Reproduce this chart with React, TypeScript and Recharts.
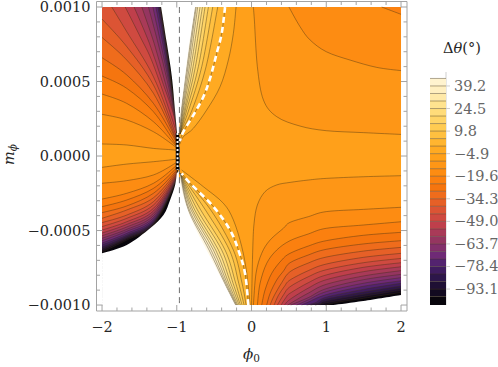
import React from "react";
import { ScatterChart, Scatter, XAxis, YAxis } from "recharts";

type Row = [number, number];

// contour levels, degrees
const negLevels = [-9.8, -14.7, -19.6, -24.5, -29.4, -34.3, -39.2, -44.1, -49, -53.9, -58.8, -63.7, -68.6, -73.5, -78.4, -83.3, -88.2, -93.1, -98];
const posLevels = [-4.9, 0, 4.9, 9.8, 14.7, 19.6, 24.5, 29.4, 34.3, 39.2, 44.1];
const baseColor = "#ffa01a";
const negColors = ["#fe9616", "#fd8c12", "#fb800f", "#f5750f", "#ef6c1c", "#e66027", "#dc5434", "#cf4a40", "#bf3f4b", "#a93a58", "#953560", "#83306b", "#6f2a76", "#53236f", "#3f1c5f", "#2d164a", "#1f1034", "#120a20", "#08050c"];
const posColors = ["#ffaa22", "#ffb530", "#ffc040", "#ffcb52", "#ffd466", "#ffdc7a", "#ffe38f", "#ffe9a8", "#ffefc0", "#fff3cf", "#fff8e4"];

// fans: [phi0, m_phi * 1000]
const upperLeft: Row[][] = [
  [[-2, 0.081], [-1.669, 0.074], [-1.312, 0.051], [-1.022, 0.04], [-0.99, 0.03]],
  [[-2, 0.28], [-1.669, 0.242], [-1.312, 0.163], [-1.022, 0.063], [-0.99, 0.04]],
  [[-2, 0.416], [-1.669, 0.353], [-1.312, 0.23], [-1.022, 0.074], [-0.99, 0.05]],
  [[-2, 0.537], [-1.669, 0.454], [-1.312, 0.297], [-1.022, 0.085], [-0.99, 0.055]],
  [[-2, 0.66], [-1.669, 0.544], [-1.312, 0.353], [-1.022, 0.107], [-0.99, 0.06]],
  [[-2, 0.796], [-1.669, 0.644], [-1.312, 0.421], [-1.022, 0.119], [-0.99, 0.065]],
  [[-2, 0.919], [-1.669, 0.734], [-1.312, 0.477], [-1.022, 0.13], [-0.99, 0.07]],
  [[-1.87, 1], [-1.669, 0.834], [-1.312, 0.532], [-1.022, 0.152], [-0.99, 0.08]],
  [[-1.69, 1], [-1.49, 0.801], [-1.312, 0.611], [-1.022, 0.186], [-0.99, 0.09]],
  [[-1.571, 1], [-1.366, 0.756], [-1.2, 0.51], [-1.035, 0.264], [-0.99, 0.1]],
  [[-1.468, 1], [-1.303, 0.756], [-1.165, 0.51], [-1.031, 0.264], [-0.99, 0.105]],
  [[-1.379, 1], [-1.25, 0.756], [-1.13, 0.51], [-1.026, 0.264], [-0.99, 0.11]],
  [[-1.32, 1], [-1.215, 0.756], [-1.112, 0.51], [-1.022, 0.264], [-0.99, 0.115]],
  [[-1.28, 1], [-1.188, 0.756], [-1.1, 0.51], [-1.02, 0.264], [-0.99, 0.12]],
  [[-1.253, 1], [-1.168, 0.756], [-1.09, 0.51], [-1.017, 0.264], [-0.99, 0.12]],
  [[-1.235, 1], [-1.155, 0.756], [-1.084, 0.51], [-1.015, 0.264], [-0.99, 0.125]],
  [[-1.224, 1], [-1.147, 0.756], [-1.08, 0.51], [-1.013, 0.264], [-0.99, 0.125]],
  [[-1.217, 1], [-1.142, 0.756], [-1.077, 0.51], [-1.011, 0.264], [-0.99, 0.13]],
  [[-1.212, 1], [-1.138, 0.756], [-1.075, 0.51], [-1.008, 0.264], [-0.99, 0.13]],
];

const lowerLeft: Row[][] = [
  [[-2, -0.076], [-1.669, -0.054], [-1.312, -0.038], [-1.022, -0.022], [-0.99, -0.015]],
  [[-2, -0.183], [-1.669, -0.165], [-1.312, -0.127], [-1.022, -0.049], [-0.99, -0.03]],
  [[-2, -0.289], [-1.669, -0.25], [-1.312, -0.183], [-1.022, -0.071], [-0.99, -0.04]],
  [[-2, -0.34], [-1.669, -0.295], [-1.312, -0.217], [-1.022, -0.089], [-0.99, -0.05]],
  [[-2, -0.38], [-1.669, -0.335], [-1.312, -0.25], [-1.022, -0.105], [-0.99, -0.055]],
  [[-2, -0.418], [-1.669, -0.362], [-1.312, -0.28], [-1.022, -0.116], [-0.99, -0.06]],
  [[-2, -0.447], [-1.669, -0.396], [-1.312, -0.306], [-1.022, -0.127], [-0.99, -0.065]],
  [[-2, -0.474], [-1.669, -0.418], [-1.312, -0.329], [-1.022, -0.136], [-0.99, -0.07]],
  [[-2, -0.497], [-1.669, -0.441], [-1.312, -0.351], [-1.022, -0.145], [-0.99, -0.075]],
  [[-2, -0.517], [-1.669, -0.459], [-1.312, -0.369], [-1.022, -0.152], [-0.99, -0.08]],
  [[-2, -0.535], [-1.669, -0.476], [-1.312, -0.385], [-1.022, -0.159], [-0.99, -0.085]],
  [[-2, -0.552], [-1.669, -0.492], [-1.312, -0.4], [-1.022, -0.165], [-0.99, -0.09]],
  [[-2, -0.568], [-1.669, -0.505], [-1.312, -0.414], [-1.022, -0.17], [-0.99, -0.09]],
  [[-2, -0.584], [-1.669, -0.519], [-1.312, -0.425], [-1.022, -0.174], [-0.99, -0.095]],
  [[-2, -0.597], [-1.669, -0.53], [-1.312, -0.436], [-1.022, -0.179], [-0.99, -0.095]],
  [[-2, -0.611], [-1.669, -0.539], [-1.312, -0.445], [-1.022, -0.181], [-0.99, -0.1]],
  [[-2, -0.622], [-1.669, -0.548], [-1.312, -0.452], [-1.022, -0.183], [-0.99, -0.1]],
  [[-2, -0.633], [-1.669, -0.555], [-1.312, -0.459], [-1.022, -0.185], [-0.99, -0.105]],
  [[-2, -0.644], [-1.669, -0.564], [-1.312, -0.465], [-1.022, -0.188], [-0.99, -0.105]],
];

const lowerRight: Row[][] = [
  [[0, -1], [0.016, -0.631], [0.034, -0.452], [0.078, -0.329], [0.181, -0.239], [0.337, -0.194], [0.515, -0.177], [0.76, -0.161], [1, -0.15], [1.496, -0.139], [2, -0.132]],
  [[0.025, -1], [0.06, -0.787], [0.136, -0.653], [0.248, -0.564], [0.426, -0.485], [0.515, -0.445], [0.76, -0.407], [1, -0.373], [1.496, -0.358], [2, -0.344]],
  [[0.078, -1], [0.114, -0.854], [0.203, -0.72], [0.337, -0.631], [0.515, -0.568], [0.76, -0.523], [1, -0.485], [1.496, -0.463], [2, -0.441]],
  [[0.136, -1], [0.181, -0.899], [0.27, -0.787], [0.404, -0.698], [0.515, -0.653], [0.76, -0.604], [1, -0.568], [1.496, -0.532], [2, -0.512]],
  [[0.203, -1], [0.248, -0.922], [0.337, -0.832], [0.43, -0.77], [0.515, -0.716], [0.76, -0.664], [1, -0.626], [1.496, -0.59], [2, -0.568]],
  [[0.248, -1], [0.3, -0.94], [0.404, -0.85], [0.515, -0.776], [0.76, -0.718], [1, -0.678], [1.496, -0.638], [2, -0.613]],
  [[0.301, -1], [0.36, -0.935], [0.44, -0.875], [0.515, -0.832], [0.76, -0.769], [1, -0.725], [1.496, -0.68], [2, -0.653]],
  [[0.346, -1], [0.43, -0.93], [0.515, -0.877], [0.76, -0.81], [1, -0.763], [1.496, -0.716], [2, -0.687]],
  [[0.395, -1], [0.46, -0.95], [0.515, -0.921], [0.76, -0.85], [1, -0.798], [1.496, -0.747], [2, -0.716]],
  [[0.44, -1], [0.515, -0.962], [0.76, -0.886], [1, -0.83], [1.496, -0.776], [2, -0.743]],
  [[0.484, -1], [0.6, -0.965], [0.76, -0.92], [1, -0.861], [1.496, -0.805], [2, -0.769]],
  [[0.524, -1], [0.76, -0.95], [1, -0.89], [1.496, -0.83], [2, -0.794]],
  [[0.604, -1], [0.76, -0.965], [1, -0.91], [1.496, -0.854], [2, -0.816]],
  [[0.671, -1], [0.76, -0.98], [1, -0.93], [1.496, -0.874], [2, -0.837]],
  [[0.738, -1], [0.85, -0.985], [1, -0.947], [1.496, -0.895], [2, -0.854]],
  [[0.791, -1], [0.9, -0.985], [1, -0.96], [1.496, -0.913], [2, -0.872]],
  [[0.849, -1], [0.93, -0.99], [1, -0.973], [1.496, -0.928], [2, -0.888]],
  [[0.916, -1], [1, -0.985], [1.496, -0.942], [2, -0.901]],
  [[0.983, -1], [1.2, -0.977], [1.496, -0.955], [2, -0.915]],
];

const upperRight: Row[][] = [
  [[0.024, 1], [0.038, 0.913], [0.078, 0.6], [0.159, 0.376], [0.337, 0.264], [0.649, 0.201], [1, 0.17], [1.496, 0.157], [2, 0.145]],
  [[0.5, 1], [0.649, 0.868], [0.783, 0.779], [1, 0.7], [1.318, 0.644], [1.674, 0.595], [2, 0.573]],
  [[1.741, 1], [2, 0.951]],
];

// positive side, from -4.9 upward; index 1 is the zero contour
const upperFan: Row[][] = [
  [[-0.207, 1], [-0.243, 0.823], [-0.31, 0.644], [-0.421, 0.465], [-0.6, 0.309], [-0.778, 0.186], [-0.912, 0.13], [-0.96, 0.08]],
  [[-0.354, 1], [-0.399, 0.823], [-0.466, 0.689], [-0.555, 0.521], [-0.644, 0.398], [-0.778, 0.275], [-0.912, 0.163], [-0.96, 0.1]],
  [[-0.452, 1], [-0.608, 0.6], [-0.796, 0.309], [-0.955, 0.15]],
  [[-0.519, 1], [-0.666, 0.6], [-0.84, 0.309], [-0.955, 0.15]],
  [[-0.577, 1], [-0.711, 0.6], [-0.867, 0.309], [-0.955, 0.15]],
  [[-0.622, 1], [-0.751, 0.6], [-0.885, 0.309], [-0.955, 0.15]],
  [[-0.657, 1], [-0.782, 0.6], [-0.898, 0.309], [-0.955, 0.15]],
  [[-0.689, 1], [-0.809, 0.6], [-0.912, 0.309], [-0.955, 0.15]],
  [[-0.72, 1], [-0.831, 0.6], [-0.921, 0.309], [-0.955, 0.15]],
  [[-0.74, 1], [-0.849, 0.6], [-0.93, 0.309], [-0.955, 0.15]],
  [[-0.752, 1], [-0.863, 0.6], [-0.938, 0.309], [-0.955, 0.15]],
];

const lowerFan: Row[][] = [
  [[-0.02, -1], [-0.064, -0.787], [-0.131, -0.608], [-0.243, -0.429], [-0.377, -0.317], [-0.644, -0.206], [-0.934, -0.094]],
  [[-0.042, -1], [-0.087, -0.787], [-0.176, -0.631], [-0.287, -0.497], [-0.51, -0.34], [-0.822, -0.183], [-0.934, -0.116]],
  [[-0.073, -1], [-0.127, -0.854], [-0.243, -0.631], [-0.546, -0.362], [-0.956, -0.116]],
  [[-0.1, -1], [-0.171, -0.854], [-0.296, -0.631], [-0.617, -0.362], [-0.956, -0.116]],
  [[-0.127, -1], [-0.212, -0.854], [-0.354, -0.631], [-0.68, -0.362], [-0.956, -0.116]],
  [[-0.149, -1], [-0.247, -0.854], [-0.399, -0.631], [-0.724, -0.362], [-0.956, -0.116]],
  [[-0.167, -1], [-0.278, -0.854], [-0.443, -0.631], [-0.76, -0.362], [-0.956, -0.116]],
  [[-0.185, -1], [-0.305, -0.854], [-0.479, -0.631], [-0.787, -0.362], [-0.956, -0.116]],
  [[-0.198, -1], [-0.327, -0.854], [-0.51, -0.631], [-0.809, -0.362], [-0.956, -0.116]],
  [[-0.207, -1], [-0.345, -0.854], [-0.541, -0.631], [-0.831, -0.362], [-0.956, -0.116]],
  [[-0.216, -1], [-0.359, -0.854], [-0.568, -0.631], [-0.845, -0.362], [-0.956, -0.116]],
];

// corners used to close the nested regions
const fieldRect: Row[] = [[-2, 1], [2, 1], [2, -1], [-2, -1]];
const closeUpperLeft: Row[] = [[-0.97, 1], [-2, 1]];
const closeLowerLeft: Row[] = [[-0.97, -1], [-2, -1]];
const closeLowerRight: Row[] = [[2, -1]];
const closeUpperRight: Row[] = [[2, 1]];
const closeUpperFan: Row[] = [[-0.955, 1]];
const closeLowerFan: Row[] = [[-0.955, -1]];

// regions with no data
const blankUpperDark: Row[] = [[-1.21, 1], [-1.133, 0.756], [-1.066, 0.532], [-1.02, 0.286], [-0.99, 0.12]];
const blankUpperPale: Row[] = [[-0.97, 0.12], [-0.956, 0.264], [-0.912, 0.444], [-0.845, 0.712], [-0.756, 1]];
const blankLowerDark: Row[] = [[-2, -0.653], [-1.669, -0.597], [-1.357, -0.485], [-1.178, -0.396], [-1.089, -0.295], [-1.022, -0.195], [-1, -0.116]];
const blankLowerPale: Row[] = [[-0.97, -0.1], [-0.956, -0.183], [-0.822, -0.407], [-0.555, -0.675], [-0.22, -1]];
const blankLowerCorner: Row[] = [[-2, -1]];
const blankRightEdge: Row[] = [[1.095, -1], [1.496, -0.973], [2, -0.933]];
const blankRightCorner: Row[] = [[2, -1]];

const dashedVertical: Row[] = [[-0.965, 1], [-0.965, -1]];
const poleColumn: Row[] = [[-0.99, 0.154], [-0.99, -0.094]];

const xTicks = [-2, -1.8, -1.6, -1.4, -1.2, -1, -0.8, -0.6, -0.4, -0.2, 0, 0.2, 0.4, 0.6, 0.8, 1, 1.2, 1.4, 1.6, 1.8, 2];
const yTicks = [-1, -0.9, -0.8, -0.7, -0.6, -0.5, -0.4, -0.3, -0.2, -0.1, 0, 0.1, 0.2, 0.3, 0.4, 0.5, 0.6, 0.7, 0.8, 0.9, 1];
const xLabels: Record<string, string> = { "-2": "−2", "-1": "−1", "0": "0", "1": "1", "2": "2" };
const yLabels: Record<string, string> = { "-1": "−0.0010", "-0.5": "−0.0005", "0": "0.0000", "0.5": "0.0005", "1": "0.0010" };
const barTicks = [39.2, 24.5, 9.8, -4.9, -19.6, -34.3, -49, -63.7, -78.4, -93.1];
const barLabels = ["39.2", "24.5", "9.8", "−4.9", "−19.6", "−34.3", "−49.0", "−63.7", "−78.4", "−93.1"];
const barBottom = -103.5;

const FRAME = "#a3a3a3";
const LINE = "rgba(60,45,20,0.55)";
const SERIF = "'DejaVu Serif', serif";

const toData = (rows: Row[]) => rows.map(([phi, m]) => ({ phi, m }));
const noDot = () => <g />;

function smooth(p: { x: number; y: number }[]) {
  let d = `M${p[0].x},${p[0].y}`;
  for (let i = 0; i < p.length - 1; i++) {
    const a = p[Math.max(i - 1, 0)], b = p[i], c = p[i + 1], e = p[Math.min(i + 2, p.length - 1)];
    d += `C${b.x + (c.x - a.x) / 6},${b.y + (c.y - a.y) / 6} ${c.x - (e.x - b.x) / 6},${c.y - (e.y - b.y) / 6} ${c.x},${c.y}`;
  }
  return d;
}

const regionLine = (n: number, fill: string) => (props: any) => {
  const pts = props.points as { x: number; y: number }[];
  const curve = smooth(pts.slice(0, n));
  const rest = pts.slice(n).map((q) => `L${q.x},${q.y}`).join("");
  return (
    <g>
      <path d={`${curve}${rest}Z`} fill={fill} stroke="none" />
      <path d={curve} fill="none" stroke={LINE} strokeWidth={0.75} />
    </g>
  );
};

const flatLine = (fill: string) => (props: any) => {
  const pts = props.points as { x: number; y: number }[];
  return <path d={`M${pts.map((q) => `${q.x},${q.y}`).join("L")}Z`} fill={fill} stroke="none" />;
};

// white area whose outline is made of smooth runs, each run ending at the given index
const blankLine = (ends: number[]) => (props: any) => {
  const pts = props.points as { x: number; y: number }[];
  let start = 0;
  let d = "";
  ends.forEach((end, i) => {
    const run = smooth(pts.slice(start, end));
    d += i === 0 ? run : `L${run.slice(1)}`;
    start = end;
  });
  return <path d={`${d}Z`} fill="#fff" stroke="none" />;
};

const strokeLine = (stroke: string, width: number, dash?: string) => (props: any) => (
  <path d={smooth(props.points)} fill="none" stroke={stroke} strokeWidth={width} strokeDasharray={dash} />
);

const region = (key: string, rows: Row[], closing: Row[], fill: string) => (
  <Scatter key={key} data={toData([...rows, ...closing])} shape={noDot} line={regionLine(rows.length, fill)} isAnimationActive={false} legendType="none" />
);

const BottomTick = ({ x, y, payload }: any) => {
  const label = xLabels[String(payload.value)];
  return (
    <g>
      <line x1={x} x2={x} y1={y} y2={y - (label ? 6 : 3.5)} stroke={FRAME} />
      {label && <text x={x} y={y + 21} textAnchor="middle" fontFamily={SERIF} fontSize={14.5} fill="#262626">{label}</text>}
    </g>
  );
};
const TopTick = ({ x, y, payload }: any) => (
  <line x1={x} x2={x} y1={y} y2={y + (xLabels[String(payload.value)] ? 6 : 3.5)} stroke={FRAME} />
);
const LeftTick = ({ x, y, payload }: any) => {
  const label = yLabels[String(payload.value)];
  return (
    <g>
      <line x1={x} x2={x + (label ? 6 : 3.5)} y1={y} y2={y} stroke={FRAME} />
      {label && <text x={x - 6} y={y + 5} textAnchor="end" fontFamily={SERIF} fontSize={14.5} fill="#262626">{label}</text>}
    </g>
  );
};
const RightTick = ({ x, y, payload }: any) => (
  <line x1={x} x2={x - (yLabels[String(payload.value)] ? 6 : 3.5)} y1={y} y2={y} stroke={FRAME} />
);
const BarTick = ({ x, y, payload }: any) => (
  <g>
    <line x1={x} x2={x + 4} y1={y} y2={y} stroke="#cfcfcf" />
    <text x={x + 8} y={y + 5} fontFamily={SERIF} fontSize={14.5} fill="#666">{barLabels[barTicks.indexOf(payload.value)]}</text>
  </g>
);

const barBands = [
  ...posLevels.slice(0, -1).map((lo, i) => ({ lo, hi: posLevels[i + 1], color: posColors[i] })),
  { lo: -9.8, hi: -4.9, color: baseColor },
  ...negLevels.map((hi, i) => ({ hi, lo: i + 1 < negLevels.length ? negLevels[i + 1] : barBottom, color: negColors[i] })),
];
const barX = [0, 1];

export default function App() {
  return (
    <div style={{ position: "absolute", left: 0, top: 0, width: 498, height: 367, background: "#fff" }}>
      <div style={{ position: "absolute", left: 0, top: 0 }}>
        <ScatterChart width={498} height={367} margin={{ left: 95.5, right: 90, top: 0.5, bottom: 55 }}>
          <XAxis xAxisId={0} type="number" dataKey="phi" domain={[-2.074, 2.08]} ticks={xTicks} interval={0} height={1} tickSize={0} tickMargin={0} tickLine={false} stroke={FRAME} tick={BottomTick} allowDataOverflow />
          <XAxis xAxisId="top" orientation="top" type="number" dataKey="phi" domain={[-2.074, 2.08]} ticks={xTicks} interval={0} height={1} tickSize={0} tickMargin={0} tickLine={false} stroke={FRAME} tick={TopTick} allowDataOverflow />
          <YAxis yAxisId={0} type="number" dataKey="m" domain={[-1.04, 1.037]} ticks={yTicks} interval={0} width={1} tickSize={0} tickMargin={0} tickLine={false} stroke={FRAME} tick={LeftTick} allowDataOverflow />
          <YAxis yAxisId="right" orientation="right" type="number" dataKey="m" domain={[-1.04, 1.037]} ticks={yTicks} interval={0} width={1} tickSize={0} tickMargin={0} tickLine={false} stroke={FRAME} tick={RightTick} allowDataOverflow />

          <Scatter data={toData(fieldRect)} shape={noDot} line={flatLine(baseColor)} isAnimationActive={false} legendType="none" />
          {upperRight.map((c, i) => region(`ur${i}`, c, closeUpperRight, negColors[i]))}
          {lowerRight.map((c, i) => region(`lr${i}`, c, closeLowerRight, negColors[i]))}
          {upperFan.map((c, i) => region(`uf${i}`, c, closeUpperFan, posColors[i]))}
          {lowerFan.map((c, i) => region(`lf${i}`, c, closeLowerFan, posColors[i]))}
          {upperLeft.map((c, i) => region(`ul${i}`, c, closeUpperLeft, negColors[i]))}
          {lowerLeft.map((c, i) => region(`ll${i}`, c, closeLowerLeft, negColors[i]))}

          <Scatter data={toData([...blankUpperDark, ...blankUpperPale])} shape={noDot} line={blankLine([blankUpperDark.length, blankUpperDark.length + blankUpperPale.length])} isAnimationActive={false} legendType="none" />
          <Scatter data={toData([...blankLowerDark, ...blankLowerPale, ...blankLowerCorner])} shape={noDot} line={blankLine([blankLowerDark.length, blankLowerDark.length + blankLowerPale.length, blankLowerDark.length + blankLowerPale.length + 1])} isAnimationActive={false} legendType="none" />
          <Scatter data={toData([...blankRightEdge, ...blankRightCorner])} shape={noDot} line={blankLine([blankRightEdge.length, blankRightEdge.length + 1])} isAnimationActive={false} legendType="none" />

          <Scatter data={toData(dashedVertical)} shape={noDot} line={strokeLine("#6e6e6e", 1, "6 4")} isAnimationActive={false} legendType="none" />
          <Scatter data={toData(poleColumn)} shape={noDot} line={strokeLine("#000", 3.5)} isAnimationActive={false} legendType="none" />
          <Scatter data={toData(poleColumn)} shape={noDot} line={strokeLine("#fff", 2, "2 2")} isAnimationActive={false} legendType="none" />
          <Scatter data={toData(upperFan[1])} shape={noDot} line={strokeLine("#fff", 2.6, "6 4")} isAnimationActive={false} legendType="none" />
          <Scatter data={toData(lowerFan[1])} shape={noDot} line={strokeLine("#fff", 2.6, "6 4")} isAnimationActive={false} legendType="none" />
        </ScatterChart>
      </div>

      <div style={{ position: "absolute", left: 430, top: 0 }}>
        <ScatterChart width={68} height={367} margin={{ left: 0, right: 51, top: 72, bottom: 62 }}>
          <XAxis type="number" dataKey="x" domain={[0, 1]} hide />
          <YAxis orientation="right" type="number" dataKey="y" domain={[-103.5, 48.3]} ticks={barTicks} interval={0} width={1} tickSize={0} tickMargin={0} tickLine={false} stroke="#cfcfcf" tick={BarTick} />
          {barBands.map((b, i) => (
            <Scatter key={`b${i}`} data={[{ x: barX[0], y: b.lo }, { x: barX[1], y: b.lo }, { x: barX[1], y: b.hi }, { x: barX[0], y: b.hi }]} shape={noDot} line={flatLine(b.color)} isAnimationActive={false} legendType="none" />
          ))}
          {[...posLevels, ...negLevels].map((v) => (
            <Scatter key={`l${v}`} data={[{ x: barX[0], y: v }, { x: barX[1], y: v }]} shape={noDot} line={{ stroke: LINE, strokeWidth: 0.75 }} isAnimationActive={false} legendType="none" />
          ))}
        </ScatterChart>
      </div>

      <svg width={498} height={367} style={{ position: "absolute", left: 0, top: 0, pointerEvents: "none" }}>
        <text x={243} y={359} fontFamily={SERIF} fontSize={15} fontStyle="italic" fill="#262626">ϕ<tspan dy={3} fontSize={10.5} fontStyle="normal">0</tspan></text>
        <text transform="translate(14,165) rotate(-90)" fontFamily={SERIF} fontSize={14.5} fontStyle="italic" fill="#262626">m<tspan dy={3} fontSize={10.5}>ϕ</tspan></text>
        <text x={443} y={53} fontFamily={SERIF} fontSize={14.5} fill="#262626">Δ<tspan fontStyle="italic">θ</tspan>(°)</text>
      </svg>
    </div>
  );
}
